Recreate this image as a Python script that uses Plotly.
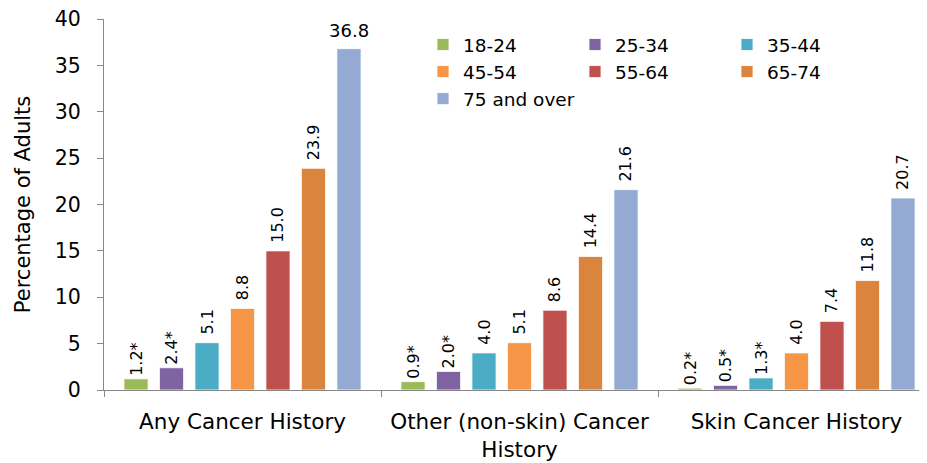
import plotly.graph_objects as go

categories = ["Any Cancer History", "Other (non-skin) Cancer<br>History", "Skin Cancer History"]
age_groups = ["18-24", "25-34", "35-44", "45-54", "55-64", "65-74", "75 and over"]
values = {
    "18-24": [1.2, 0.9, 0.2],
    "25-34": [2.4, 2.0, 0.5],
    "35-44": [5.1, 4.0, 1.3],
    "45-54": [8.8, 5.1, 4.0],
    "55-64": [15.0, 8.6, 7.4],
    "65-74": [23.9, 14.4, 11.8],
    "75 and over": [36.8, 21.6, 20.7],
}
flagged = {
    "18-24": [True, True, True],
    "25-34": [True, True, True],
    "35-44": [False, False, True],
    "45-54": [False, False, False],
    "55-64": [False, False, False],
    "65-74": [False, False, False],
    "75 and over": [False, False, False],
}
# labels drawn horizontally (no room above for rotated text)
horizontal_label = {"75 and over": [True, False, False]}
colors = ["#9BBB59", "#8064A2", "#4BACC6", "#F79646", "#C0504D", "#DB843D", "#94AAD2"]
legend_ids = ["legend", "legend2", "legend3", "legend", "legend2", "legend3", "legend"]

FONT = "DejaVu Sans"
# page body has an 8px margin, so the figure is sized / positioned to compensate
W, H = 919, 455
ML, MR, MT, MB = 96, 0, 11, 73
BARGAP, BARGROUPGAP = 0.103, 0.32

fig = go.Figure()
n = len(age_groups)
annotations = []
for i, (g, c, lg) in enumerate(zip(age_groups, colors, legend_ids)):
    labels = [f"{v:.1f}" + ("*" if f else "") for v, f in zip(values[g], flagged[g])]
    horiz = horizontal_label.get(g, [False] * len(categories))
    bar_text = [("" if h else (t if f else "\u00a0" + t)) for t, h, f in zip(labels, horiz, flagged[g])]
    fig.add_trace(go.Bar(
        name=g, x=categories, y=values[g], marker=dict(color=c, line=dict(color="white", width=0.8)),
        text=bar_text, textposition="outside", textangle=-90, cliponaxis=False, constraintext="none",
        textfont=dict(family=FONT, size=16, color="black"),
        legend=lg, legendgroup=g,
    ))
    slot = (1 - BARGAP) / n
    offset = -(1 - BARGAP) / 2 + slot * (i + 0.5)
    for k, (t, h) in enumerate(zip(labels, horiz)):
        if h:
            annotations.append(dict(x=k + offset, y=values[g][k], xref="x", yref="y", text=t,
                                    showarrow=False, yanchor="bottom", yshift=6,
                                    font=dict(family=FONT, size=18, color="black")))

plot_w = W - ML - MR
plot_h = H - MT - MB
span = plot_w / 277.0

def legend_cfg(xpx):
    # xpx / top are in figure pixels
    return dict(x=(xpx - ML) / plot_w, y=1 - (18 - MT) / plot_h, xanchor="left", yanchor="top",
                font=dict(family=FONT, size=18.5, color="black"), bgcolor="rgba(0,0,0,0)",
                tracegroupgap=4, itemwidth=30, traceorder="normal")

fig.update_layout(
    width=W, height=H, margin=dict(l=ML, r=MR, t=MT, b=MB, autoexpand=False),
    plot_bgcolor="white", paper_bgcolor="white",
    barmode="group", bargap=BARGAP, bargroupgap=BARGROUPGAP,
    font=dict(family=FONT, color="black"),
    legend=legend_cfg(415), legend2=legend_cfg(567), legend3=legend_cfg(719),
    annotations=annotations,
    xaxis=dict(range=[-0.5, -0.5 + span], tickson="boundaries", ticks="outside", ticklen=6,
               tickcolor="#888888", showline=True, linecolor="#888888", linewidth=1, automargin=False,
               ticklabelstandoff=12, ticklabeloverflow="allow",
               tickfont=dict(family=FONT, size=21.5, color="black"), showgrid=False),
    yaxis=dict(range=[0, 40], dtick=5, ticks="outside", ticklen=6, tickcolor="#888888", automargin=False,
               showline=True, linecolor="#888888", linewidth=1, showgrid=False, zeroline=False,
               ticklabelstandoff=12, ticklabeloverflow="allow",
               tickfont=dict(family=FONT, size=20.5, color="black"),
               title=dict(text="Percentage of Adults", font=dict(family=FONT, size=21, color="black"), standoff=18)),
)
fig.write_html("out.html")
